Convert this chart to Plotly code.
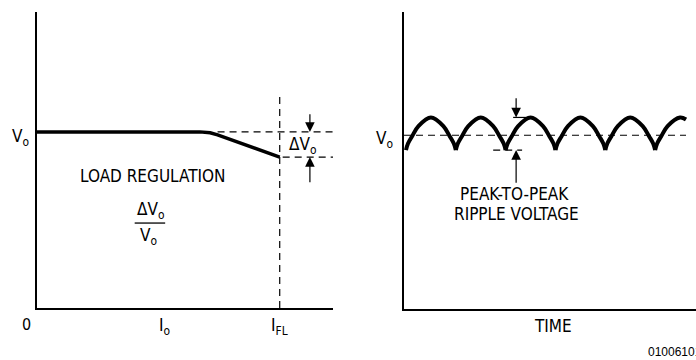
import plotly.graph_objects as go

# Left panel: load regulation (output voltage vs load current)
LOAD_I = [0.0, 5.5, 5.85, 6.1, 8.2]
LOAD_V = [5.95, 5.95, 5.92, 5.85, 5.1]
V_NOM = 5.95       # Vo level
V_FULL = 5.1       # voltage at full load
I_FL = 8.2         # full load current
I_O = 4.3          # Io tick position

# Right panel: ripple voltage vs time (arches separated by None)
RIPPLE_T = [0.0, 0.04, 0.12, 0.25, 0.5, 0.75, 0.88, 0.96, 1.0, None,
            1.0, 1.04, 1.12, 1.25, 1.5, 1.75, 1.88, 1.96, 2.0, None,
            2.0, 2.04, 2.12, 2.25, 2.5, 2.75, 2.88, 2.96, 3.0, None,
            3.0, 3.04, 3.12, 3.25, 3.5, 3.75, 3.88, 3.96, 4.0, None,
            4.0, 4.04, 4.12, 4.25, 4.5, 4.75, 4.88, 4.96, 5.0, None,
            5.0, 5.04, 5.12, 5.25, 5.5, 5.62]
RIPPLE_V = [5.35, 5.57, 5.81, 6.16, 6.45, 6.16, 5.81, 5.57, 5.35, None,
            5.35, 5.57, 5.81, 6.16, 6.45, 6.16, 5.81, 5.57, 5.35, None,
            5.35, 5.57, 5.81, 6.16, 6.45, 6.16, 5.81, 5.57, 5.35, None,
            5.35, 5.57, 5.81, 6.16, 6.45, 6.16, 5.81, 5.57, 5.35, None,
            5.35, 5.57, 5.81, 6.16, 6.45, 6.16, 5.81, 5.57, 5.35, None,
            5.35, 5.57, 5.81, 6.16, 6.45, 6.38]
RIPPLE_NOM = 5.85
RIPPLE_MIN = 5.35
RIPPLE_MAX = 6.45

FONT = "Liberation Sans Narrow, DejaVu Sans Condensed, Arial Narrow, sans-serif"
DASH = "7px,5px"

W, H = 696, 360
XDOM1, YDOM1, XR1, YR1 = [37/W, 333/W], [52/H, 348/H], [0, 10], [0, 10]
XDOM2, YDOM2, XR2, YR2 = [404/W, 1.0], [51/H, 348/H], [-0.04, 5.82], [0, 10]

fig = go.Figure()
fig.add_trace(go.Scatter(x=LOAD_I, y=LOAD_V, mode="lines",
                         line=dict(color="black", width=3.5),
                         xaxis="x", yaxis="y", hoverinfo="skip"))
fig.add_trace(go.Scatter(x=RIPPLE_T, y=RIPPLE_V, mode="lines",
                         line=dict(color="black", width=4, shape="spline", smoothing=1),
                         connectgaps=False,
                         xaxis="x2", yaxis="y2", hoverinfo="skip"))

axis_style = dict(showline=True, linewidth=2, linecolor="black",
                  showgrid=False, zeroline=False, showticklabels=False,
                  ticks="", fixedrange=True)

fig.update_layout(
    width=W, height=H,
    margin=dict(l=0, r=0, t=0, b=0),
    paper_bgcolor="white", plot_bgcolor="white",
    showlegend=False,
    xaxis=dict(domain=XDOM1, range=XR1, **axis_style),
    yaxis=dict(domain=YDOM1, range=YR1, **axis_style),
    xaxis2=dict(domain=XDOM2, range=XR2, anchor="y2", **axis_style),
    yaxis2=dict(domain=YDOM2, range=YR2, anchor="x2", **axis_style),
)

thin = dict(color="black", width=1.2, dash=DASH)
shapes = [
    # full-load vertical and the two horizontal reference lines
    dict(type="line", xref="x", yref="y", x0=I_FL, x1=I_FL, y0=0, y1=7.2, line=thin),
    dict(type="line", xref="x", yref="y", x0=6.1, x1=10, y0=V_NOM, y1=V_NOM, line=thin),
    dict(type="line", xref="x", yref="y", x0=8.3, x1=10, y0=V_FULL, y1=V_FULL, line=thin),
    # fraction bar
    dict(type="line", xref="x", yref="y", x0=3.3, x1=4.33, y0=2.87, y1=2.87,
         line=dict(color="black", width=1.3)),
    # ripple nominal line
    dict(type="line", xref="x2", yref="y2", x0=-0.04, x1=5.62, y0=RIPPLE_NOM, y1=RIPPLE_NOM, line=thin),
    # ripple peak / trough markers
    dict(type="line", xref="x2", yref="y2", x0=2.15, x1=2.45, y0=RIPPLE_MAX, y1=RIPPLE_MAX,
         line=dict(color="black", width=1.2)),
    dict(type="line", xref="x2", yref="y2", x0=1.75, x1=2.33, y0=RIPPLE_MIN, y1=RIPPLE_MIN, line=thin),
]
fig.update_layout(shapes=shapes)


def to_paper(panel, x, y):
    # map a data position to paper coords so labels outside the axis range still show
    xd, yd, xr, yr = (XDOM1, YDOM1, XR1, YR1) if panel == 1 else (XDOM2, YDOM2, XR2, YR2)
    px = xd[0] + (x - xr[0]) / (xr[1] - xr[0]) * (xd[1] - xd[0])
    py = yd[0] + (y - yr[0]) / (yr[1] - yr[0]) * (yd[1] - yd[0])
    return px, py


def label(text, panel, x, y, size=17):
    px, py = to_paper(panel, x, y)
    fig.add_annotation(text=text, x=px, y=py, xref="paper", yref="paper", showarrow=False,
                       xanchor="center", yanchor="middle",
                       font=dict(family=FONT, size=size, color="black"))


def arrow(panel, x, y_tail, y_head):
    xref, yref = ("x", "y") if panel == 1 else ("x2", "y2")
    fig.add_annotation(x=x, y=y_head, ax=x, ay=y_tail, xref=xref, yref=yref,
                       axref=xref, ayref=yref, text="", showarrow=True,
                       arrowhead=2, arrowsize=1.6, arrowwidth=1.2, arrowcolor="black")


# left panel text
label("V<sub>o</sub>", 1, -0.55, V_NOM - 0.2)
label("0", 1, -0.34, -0.55, size=16)
label("I<sub>o</sub>", 1, I_O, -0.62)
label("I<sub>FL</sub>", 1, I_FL, -0.62)
label("LOAD REGULATION", 1, 3.9, 4.46)
label("ΔV<sub>o</sub>", 1, 3.82, 3.3)
label("V<sub>o</sub>", 1, 3.78, 2.4)
label("ΔV<sub>o</sub>", 1, 8.98, 5.5)
arrow(1, 9.22, 6.6, V_NOM)
arrow(1, 9.22, 4.2, V_FULL)

# right panel text
label("V<sub>o</sub>", 2, -0.44, RIPPLE_NOM - 0.15)
label("PEAK-TO-PEAK", 2, 2.17, 3.87)
label("RIPPLE VOLTAGE", 2, 2.21, 3.2)
label("TIME", 2, 2.95, -0.57)
arrow(2, 2.21, 7.15, RIPPLE_MAX)
arrow(2, 2.21, 4.2, RIPPLE_MIN)

fig.add_annotation(text="01006101", x=646/W, y=8/H, xref="paper", yref="paper",
                   xanchor="left", yanchor="middle", showarrow=False,
                   font=dict(family="Liberation Sans, Arial, sans-serif", size=12, color="black"))

# page has a default 8px body margin; drop it so the figure fills the window
fig.write_html("out.html", config={"displayModeBar": False},
               post_script="document.body.style.margin='0';")
